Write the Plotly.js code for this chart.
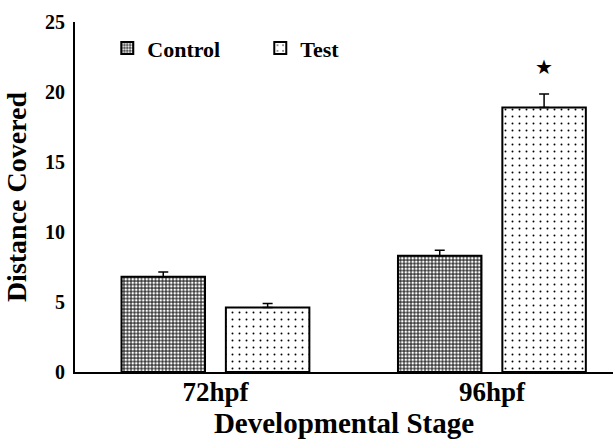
<!DOCTYPE html>
<html>
<head>
<meta charset="utf-8">
<script src="https://cdn.plot.ly/plotly-3.0.1.min.js"></script>
<style>html,body{margin:0;padding:0;background:#fff;}#chart{width:613px;height:444px;}</style>
</head>
<body>
<div id="chart"></div>
<script>
const categories = ['72hpf', '96hpf'];
const controlValues = [6.8, 8.3];
const controlErrors = [0.35, 0.4];
const testValues = [4.6, 18.9];
const testErrors = [0.3, 0.95];
const significance = ['', '★'];
const starLevel = [0, 21.8];

const FONT = 'Liberation Serif';
const BARGAP = 0.245;
const GROUPGAP = 0.2;
const zeros = categories.map(() => 0);

const traces = [
  {
    type: 'bar', name: 'Control', x: categories, y: controlValues,
    error_y: {type: 'data', symmetric: false, array: controlErrors, arrayminus: zeros, visible: true, color: '#000', thickness: 1.5, width: 5},
    marker: {color: '#fff', line: {color: '#000', width: 2},
      pattern: {shape: '.', fgcolor: '#fff', bgcolor: '#3a3a3a', size: 3.5, solidity: 0.45, fillmode: 'replace'}}
  },
  {
    type: 'bar', name: 'Test', x: categories, y: testValues,
    error_y: {type: 'data', symmetric: false, array: testErrors, arrayminus: zeros, visible: true, color: '#000', thickness: 1.5, width: 5},
    marker: {color: '#fff', line: {color: '#000', width: 2},
      pattern: {shape: '.', fgcolor: '#000', bgcolor: '#fff', size: 7, solidity: 0.06, fillmode: 'replace'}}
  }
];

const slot = (1 - BARGAP) / 2;
const annotations = [];
significance.forEach((s, i) => {
  if (s) annotations.push({x: i + slot / 2, y: starLevel[i], xref: 'x', yref: 'y', text: s,
    showarrow: false, font: {family: 'DejaVu Sans', size: 20, color: '#000'}});
});

const layout = {
  width: 613, height: 444,
  margin: {l: 75, r: 0, t: 22, b: 72},
  paper_bgcolor: '#fff', plot_bgcolor: '#fff',
  barmode: 'group', bargap: BARGAP, bargroupgap: GROUPGAP,
  font: {family: FONT, color: '#000'},
  showlegend: true,
  legend: {orientation: 'h', x: 0.06, y: 0.925, xanchor: 'left', yanchor: 'middle',
    font: {family: FONT, size: 22, weight: 'bold', color: '#000'},
    bgcolor: 'rgba(0,0,0,0)', entrywidth: 108, itemwidth: 30, traceorder: 'normal'},
  xaxis: {type: 'category', range: [-0.508, 1.438], showline: true, linecolor: '#000', linewidth: 2,
    ticks: '', showgrid: false, zeroline: false, ticklabelstandoff: -5,
    tickfont: {family: FONT, size: 27, weight: 'bold', color: '#000'},
    title: {text: 'Developmental Stage', font: {family: FONT, size: 29, weight: 'bold', color: '#000'}, standoff: 4}},
  yaxis: {range: [0, 25], dtick: 5, showline: true, linecolor: '#000', linewidth: 2,
    ticks: '', showgrid: false, zeroline: false, ticklabelstandoff: 4,
    tickfont: {family: FONT, size: 20, weight: 'bold', color: '#000'},
    title: {text: 'Distance Covered', font: {family: FONT, size: 28, weight: 'bold', color: '#000'}, standoff: 10}},
  annotations: annotations
};

Plotly.newPlot('chart', traces, layout, {displayModeBar: false, staticPlot: true});
</script>
</body>
</html>
